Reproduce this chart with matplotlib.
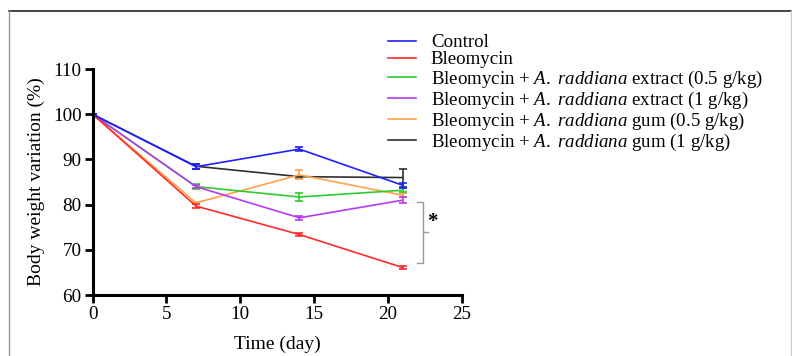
import matplotlib.pyplot as plt
from matplotlib.lines import Line2D

plt.rcParams['font.family'] = ['Liberation Serif', 'DejaVu Serif']
plt.rcParams['mathtext.fontset'] = 'custom'
plt.rcParams['mathtext.rm'] = 'Liberation Serif'
plt.rcParams['mathtext.it'] = 'Liberation Serif:italic'

days = [0, 7, 14, 21]

control = [100, 88.4, 92.3, 84.3]
control_err = [0, 0.5, 0.5, 0.6]
bleo = [100, 79.7, 73.4, 66.1]
bleo_err = [0, 0.5, 0.4, 0.3]
extract_05 = [100, 84.0, 81.7, 83.2]
extract_05_err = [0, 0.6, 0.9, 0.5]
extract_1 = [100, 84.0, 77.1, 81.0]
extract_1_err = [0, 0.3, 0.4, 0.6]
gum_05 = [100, 80.4, 86.6, 82.1]
gum_05_err = [0, 0.3, 1.0, 0.5]
gum_1 = [100, 88.5, 86.2, 86.0]
gum_1_err = [0, 0.5, 0.2, 2.0]

labels = ['Control', 'Bleomycin',
          r'Bleomycin + $\mathit{A.\ raddiana}$ extract (0.5 g/kg)',
          r'Bleomycin + $\mathit{A.\ raddiana}$ extract (1 g/kg)',
          r'Bleomycin + $\mathit{A.\ raddiana}$ gum (0.5 g/kg)',
          r'Bleomycin + $\mathit{A.\ raddiana}$ gum (1 g/kg)']
colors = ['#1f1fff', '#ff2a2a', '#2ecc2e', '#b43cf0', '#ffa347', '#303030']
series = [(control, control_err), (bleo, bleo_err), (extract_05, extract_05_err),
          (extract_1, extract_1_err), (gum_05, gum_05_err), (gum_1, gum_1_err)]

fig = plt.figure(figsize=(7.92, 3.56), dpi=100)
ax = fig.add_axes([0.117, 0.171, 0.466, 0.635])

draw_order = [5, 4, 2, 3, 1, 0]
handles = {}
for i in draw_order:
    vals, err = series[i]
    h = ax.errorbar(days, vals, yerr=err, color=colors[i], lw=1.2, capsize=3,
                    capthick=1.2, elinewidth=1.2, label=labels[i])
    handles[i] = h[0]

# significance bracket
bx = 22.0
ax.plot([bx, bx + 0.4, bx + 0.4, bx], [80.6, 80.6, 67.2, 67.2], color='#999999', lw=1.0,
        clip_on=False)
ax.plot([bx + 0.4, bx + 0.7], [74.0, 74.0], color='#999999', lw=1.0, clip_on=False)
ax.text(bx + 1.0, 76.2, '*', fontsize=15, fontweight='bold', ha='center', va='center')

ax.set_xlim(0, 25)
ax.set_ylim(60, 110)
ax.set_xticks([0, 5, 10, 15, 20, 25])
ax.set_yticks([60, 70, 80, 90, 100, 110])
ax.spines['top'].set_visible(False)
ax.spines['right'].set_visible(False)
for s in ['left', 'bottom']:
    ax.spines[s].set_linewidth(2.2)
ax.tick_params(width=2.0, length=6, labelsize=13.8, direction='out', pad=2)
ax.set_xlabel('Time (day)', fontsize=14, labelpad=9)
ax.set_ylabel('Body weight variation (%)', fontsize=14, labelpad=6)

leg = fig.legend([handles[i] for i in range(6)], labels, loc='upper left',
                 bbox_to_anchor=(0.4856, 0.915), frameon=False, fontsize=13.6,
                 labelspacing=0.0, handlelength=1.45, handletextpad=0.8,
                 borderaxespad=0, borderpad=0.2)

# frame around the figure
fig.add_artist(Line2D([0.0114, 0.9987], [0.969, 0.969], transform=fig.transFigure,
                      color='#222222', lw=1.2))
fig.add_artist(Line2D([0.0114, 0.0114], [0.969, 0.0], transform=fig.transFigure,
                      color='#999999', lw=1.0))
fig.add_artist(Line2D([0.9987, 0.9987], [0.969, 0.0], transform=fig.transFigure,
                      color='#cccccc', lw=1.0))

fig.savefig('out.png', dpi=100)
